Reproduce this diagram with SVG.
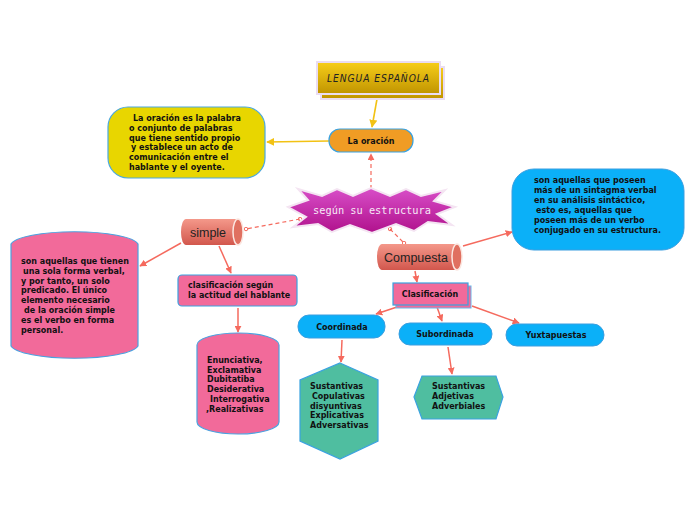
<svg xmlns="http://www.w3.org/2000/svg" width="696" height="520" viewBox="0 0 696 520">
<defs>
<style>
.t{font-family:"DejaVu Sans",Verdana,sans-serif;font-weight:bold;font-size:8px;fill:#111}
.tc{font-family:"DejaVu Sans",Verdana,sans-serif;font-weight:bold;font-size:8px;fill:#111;text-anchor:middle}
.cyl{font-family:"Liberation Sans",Arial,sans-serif;font-size:12.5px;fill:#222;text-anchor:middle}
.red{stroke:#f56a5e;stroke-width:1.5;fill:none}
.gold{stroke:#f2c214;stroke-width:1.6;fill:none}
.dash{stroke:#f56a5e;stroke-width:1.2;fill:none;stroke-dasharray:4 3}
</style>
<marker id="ar" viewBox="0 0 10 10" refX="9" refY="5" markerWidth="7" markerHeight="7" orient="auto-start-reverse" markerUnits="userSpaceOnUse"><path d="M0,0 L10,5 L0,10 Z" fill="#f56a5e"/></marker>
<marker id="ag" viewBox="0 0 10 10" refX="9" refY="5" markerWidth="8" markerHeight="8" orient="auto" markerUnits="userSpaceOnUse"><path d="M0,0 L10,5 L0,10 Z" fill="#f2c214"/></marker>
<marker id="dot" viewBox="0 0 10 10" refX="5" refY="5" markerWidth="5" markerHeight="5" markerUnits="userSpaceOnUse"><circle cx="5" cy="5" r="3.5" fill="none" stroke="#f56a5e" stroke-width="2"/></marker>
<linearGradient id="gGold" x1="0" y1="0" x2="0" y2="1"><stop offset="0" stop-color="#f7ce1a"/><stop offset="1" stop-color="#c09400"/></linearGradient>
<linearGradient id="gStar" x1="0" y1="0" x2="0" y2="1"><stop offset="0" stop-color="#d84ec8"/><stop offset="1" stop-color="#b0118c"/></linearGradient>
<linearGradient id="gCyl" x1="0" y1="0" x2="0" y2="1"><stop offset="0" stop-color="#f4988a"/><stop offset="1" stop-color="#d2574d"/></linearGradient>
</defs>
<rect width="696" height="520" fill="#ffffff"/>

<g id="connectors">
<line class="gold" x1="377" y1="99" x2="372" y2="127" marker-end="url(#ag)"/>
<line class="gold" x1="329" y1="141" x2="267" y2="142" marker-end="url(#ag)"/>
<line class="dash" x1="371" y1="189" x2="371" y2="154" marker-end="url(#ar)"/>
<line class="dash" x1="300" y1="219" x2="246" y2="229" marker-start="url(#dot)" marker-end="url(#dot)"/>
<line class="dash" x1="390" y1="229" x2="404" y2="243" marker-start="url(#dot)" marker-end="url(#dot)"/>
<line class="red" x1="463" y1="246" x2="512" y2="232" marker-end="url(#ar)"/>
<line class="red" x1="181" y1="243" x2="140" y2="266" marker-end="url(#ar)"/>
<line class="red" x1="219" y1="246" x2="231" y2="273" marker-end="url(#ar)"/>
<line class="red" x1="238" y1="308" x2="238" y2="332" marker-end="url(#ar)"/>
<line class="red" x1="415" y1="271" x2="417" y2="282" marker-end="url(#ar)"/>
<line class="red" x1="397" y1="307" x2="376" y2="314" marker-end="url(#ar)"/>
<line class="red" x1="437" y1="307" x2="442" y2="321" marker-end="url(#ar)"/>
<line class="red" x1="472" y1="306" x2="519" y2="323" marker-end="url(#ar)"/>
<line class="red" x1="342" y1="340" x2="341" y2="362" marker-end="url(#ar)"/>
<line class="red" x1="448" y1="347" x2="452" y2="374" marker-end="url(#ar)"/>
</g>

<g id="lengua">
<rect x="321" y="67" width="123" height="32" fill="url(#gGold)" stroke="#eadcf2" stroke-width="2"/>
<rect x="317" y="62" width="123" height="32" fill="url(#gGold)" stroke="#eadcf2" stroke-width="2"/>
<text x="378.5" y="82" text-anchor="middle" font-family="DejaVu Sans, sans-serif" font-style="italic" font-size="10" letter-spacing="1" fill="#222" textLength="103" lengthAdjust="spacingAndGlyphs">LENGUA ESPAÑOLA</text>
</g>

<g id="oracion">
<rect x="329" y="129" width="84" height="23" rx="11" fill="#f09c24" stroke="#3aa2e0" stroke-width="1.2"/>
<text class="tc" x="371" y="144">La oración</text>
</g>

<g id="definicion">
<rect x="108" y="107" width="157" height="71" rx="20" fill="#e8d600" stroke="#4aa8e0" stroke-width="1.2"/>
<text class="t" x="133" y="121">La oración es la palabra<tspan x="129" dy="9.8">o conjunto de palabras</tspan><tspan x="129" dy="9.8">que tiene sentido propio</tspan><tspan x="131" dy="9.8">y establece un acto de</tspan><tspan x="129" dy="9.8">comunicación entre el</tspan><tspan x="129" dy="9.8">hablante y el oyente.</tspan></text>
</g>

<g id="estructura">
<path d="M288,207 L308,200 L298,189 L322,196 L337,189 L353,196 L371,188 L390,196 L406,189 L421,196 L445,190 L434,201 L455,207 L437,214 L452,225 L428,222 L414,231 L396,224 L372,233 L350,225 L332,232 L318,224 L293,227 L306,217 Z" fill="url(#gStar)" stroke="#f4e4f2" stroke-width="2"/>
<text x="372" y="214" text-anchor="middle" font-family="DejaVu Sans Mono, monospace" font-size="10.3" fill="#f6eaf6">según su estructura</text>
</g>

<g id="simple">
<path d="M186,219 L238,219 A5,13 0 0 1 238,245 L186,245 A5,13 0 0 1 186,219 Z" fill="url(#gCyl)"/>
<ellipse cx="238" cy="232" rx="5" ry="13" fill="#e07060" stroke="#fbe6e0" stroke-width="1.5"/>
<text class="cyl" x="208" y="237">simple</text>
</g>

<g id="compuesta">
<path d="M382,244 L457,244 A5,13 0 0 1 457,270 L382,270 A5,13 0 0 1 382,244 Z" fill="url(#gCyl)"/>
<ellipse cx="457" cy="257" rx="5" ry="13" fill="#e07060" stroke="#fbe6e0" stroke-width="1.5"/>
<text class="cyl" x="416" y="262">Compuesta</text>
</g>

<g id="def-compuesta">
<rect x="512" y="169" width="172" height="81" rx="22" fill="#0bb0f8" stroke="#3a9ee0" stroke-width="1"/>
<text class="t" x="534" y="183">son aquellas que poseen<tspan x="534" dy="9.9">más de un sintagma verbal</tspan><tspan x="534" dy="9.9">en su análisis sintáctico,</tspan><tspan x="536" dy="9.9">esto es, aquellas que</tspan><tspan x="534" dy="9.9">poseen más de un verbo</tspan><tspan x="534" dy="9.9">conjugado en su estructura.</tspan></text>
</g>

<g id="def-simple">
<path d="M11,244 A64,14 0 0 1 138,244 L138,346 A64,14 0 0 1 11,346 Z" fill="#f26a9a" stroke="#4aa2e0" stroke-width="1.2"/>
<text class="t" x="21" y="264">son aquellas que tienen<tspan x="23" dy="9.8">una sola forma verbal,</tspan><tspan x="21" dy="9.8">y por tanto, un solo</tspan><tspan x="21" dy="9.8">predicado. El único</tspan><tspan x="21" dy="9.8">elemento necesario</tspan><tspan x="24" dy="9.8">de la oración simple</tspan><tspan x="21" dy="9.8">es el verbo en forma</tspan><tspan x="21" dy="9.8">personal.</tspan></text>
</g>

<g id="clasif-actitud">
<rect x="178" y="275" width="119" height="31" rx="4" fill="#f26a9a" stroke="#3aa2e0" stroke-width="1.2"/>
<text class="t" x="188" y="288">clasificación según<tspan x="188" dy="10">la actitud del hablante</tspan></text>
</g>

<g id="actitudes">
<path d="M197,345 A41,12 0 0 1 279,345 L279,422 A41,12 0 0 1 197,422 Z" fill="#f26a9a" stroke="#4aa2e0" stroke-width="1.2"/>
<text class="t" x="207" y="363">Enunciativa,<tspan x="207" dy="9.7">Exclamativa</tspan><tspan x="207" dy="9.7">Dubitatiba</tspan><tspan x="207" dy="9.7">Desiderativa</tspan><tspan x="210" dy="9.7">Interrogativa</tspan><tspan x="206" dy="9.7">,Realizativas</tspan></text>
</g>

<g id="clasificacion">
<rect x="396" y="286" width="75" height="22" fill="#f26a9a" stroke="#6ab6e8" stroke-width="1"/>
<rect x="393" y="283" width="75" height="22" fill="#f26a9a" stroke="#3aa2e0" stroke-width="1.2"/>
<text class="tc" x="430" y="297">Clasificación</text>
</g>

<g id="coordinada">
<rect x="298" y="315" width="87" height="23" rx="11" fill="#0bb0f8" stroke="#3a9ee0" stroke-width="1"/>
<text class="tc" x="342" y="330">Coordinada</text>
</g>

<g id="subordinada">
<rect x="399" y="323" width="93" height="22" rx="11" fill="#0bb0f8" stroke="#3a9ee0" stroke-width="1"/>
<text class="tc" x="445" y="337">Subordinada</text>
</g>

<g id="yuxtapuestas">
<rect x="506" y="324" width="98" height="22" rx="11" fill="#0bb0f8" stroke="#3a9ee0" stroke-width="1"/>
<text class="tc" x="556" y="338">Yuxtapuestas</text>
</g>

<g id="tipos-coordinada">
<path d="M340,363 L378,380 L378,441 L340,459 L300,441 L300,380 Z" fill="#4fbea0" stroke="#3aa2e0" stroke-width="1.2"/>
<text class="t" x="310" y="389">Sustantivas<tspan x="312" dy="9.8">Copulativas</tspan><tspan x="310" dy="9.8">disyuntivas</tspan><tspan x="310" dy="9.8">Explicativas</tspan><tspan x="310" dy="9.8">Adversativas</tspan></text>
</g>

<g id="tipos-subordinada">
<path d="M414,397 L422,376 L496,376 L503,397 L496,419 L422,419 Z" fill="#4fbea0" stroke="#3aa2e0" stroke-width="1.2"/>
<text class="t" x="432" y="389">Sustantivas<tspan x="432" dy="9.8">Adjetivas</tspan><tspan x="432" dy="9.8">Adverbiales</tspan></text>
</g>
</svg>
